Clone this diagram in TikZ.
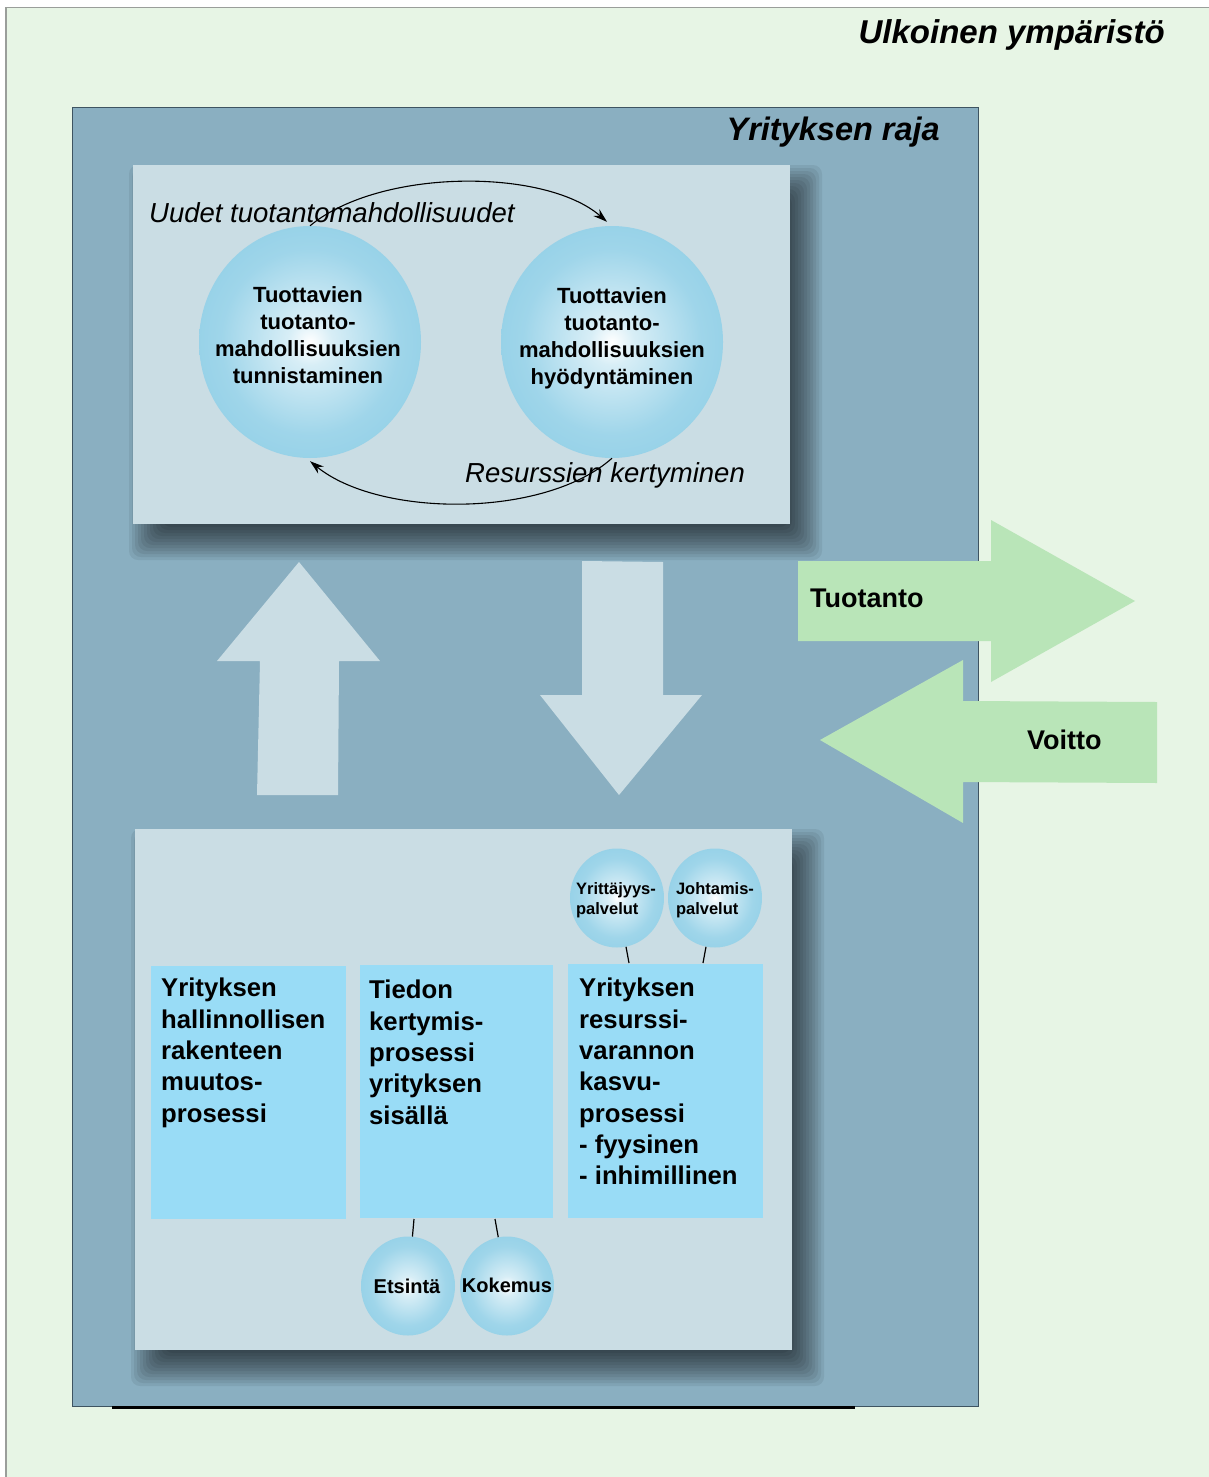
\documentclass[tikz,border=0pt]{standalone}
\usepackage{fontspec}
\setmainfont{Liberation Sans}
\usetikzlibrary{shapes.geometric,arrows.meta}

\definecolor{envgreen}{HTML}{E7F5E5}
\definecolor{envframe}{HTML}{9A9E9A}
\definecolor{boundblue}{HTML}{8AAFC1}
\definecolor{bounddark}{HTML}{3E5461}
\definecolor{panelblue}{HTML}{CADDE4}
\definecolor{boxcyan}{HTML}{99DCF6}
\definecolor{bubblefill}{HTML}{8ECEE6}
\definecolor{flowgreen}{HTML}{B9E5B8}

% radial glow used for all bubbles
\pgfdeclareradialshading{bubble}{\pgfpoint{0bp}{0bp}}{%
  color(0bp)=(white);
  color(5bp)=(bubblefill!35!white);
  color(20bp)=(bubblefill!85!white);
  color(32bp)=(bubblefill);
  color(50bp)=(bubblefill)}

\begin{document}
\begin{tikzpicture}[x=1pt,y=-1pt,
  panel/.style={fill=panelblue, anchor=north west, inner sep=0pt},
  softshade/.style={fill=black, opacity=0.068, rounded corners=9pt},
  procbox/.style={fill=boxcyan, anchor=north west, inner sep=0pt},
  bigbubble/.style={ellipse, shading=bubble, minimum width=222pt,
    minimum height=232pt, inner sep=0pt},
  bigtext/.style={inner sep=0pt, align=center,
    font=\fontsize{22}{27}\selectfont\bfseries},
  smallbubble/.style={ellipse, shading=bubble, minimum width=94pt,
    minimum height=99pt, inner sep=0pt},
  smalltext/.style={inner sep=0pt, align=left,
    font=\fontsize{16.5}{20}\selectfont\bfseries},
  proctext/.style={anchor=north west, inner sep=0pt, align=left,
    font=\fontsize{25.7}{31.3}\selectfont\bfseries},
  cyclearrow/.style={line width=1.1pt, -{Stealth[length=14pt,width=9pt]}},
  link/.style={line width=1.2pt}
]
\useasboundingbox (0,0) rectangle (1208,1477);
\fill[white] (0,0) rectangle (1208,1477);

% external environment
\node[anchor=north west, fill=envgreen, draw=envframe, line width=1.5pt,
  minimum width=1215pt, minimum height=1480pt, inner sep=0pt] (env) at (5,7) {};
\node[anchor=base east, inner sep=0pt,
  font=\fontsize{33}{38}\selectfont\bfseries\itshape] (envlabel) at (1165,44) {Ulkoinen ympäristö};

% firm boundary
\node[anchor=north west, fill=boundblue, draw=bounddark, line width=1.2pt,
  minimum width=906pt, minimum height=1299pt, inner sep=0pt] (firm) at (72,107) {};
\draw[line width=3pt] (112,1407.5) -- (855,1407.5);
\node[anchor=base east, inner sep=0pt,
  font=\fontsize{32.5}{38}\selectfont\bfseries\itshape] (firmlabel) at (940,140) {Yrityksen raja};

% panel corners and their soft drop shadows
\coordinate (tpnw) at (133,165);
\coordinate (tpse) at (790,524);
\coordinate (bpnw) at (135,829);
\coordinate (bpse) at (792,1350);
\foreach \d in {-18,-15,...,18} {
  \fill[softshade] ([shift={(\d+14,\d+18)}]tpnw) rectangle ([shift={(14-\d,18-\d)}]tpse);
  \fill[softshade] ([shift={(\d+14,\d+18)}]bpnw) rectangle ([shift={(14-\d,18-\d)}]bpse);
}

% upper panel: opportunity cycle
\node[panel, minimum width=657pt, minimum height=359pt] (toppanel) at (tpnw) {};
\node[anchor=base west, inner sep=0pt, font=\fontsize{27.5}{33}\selectfont\itshape]
  (newlabel) at (149,222) {Uudet tuotantomahdollisuudet};
\node[anchor=base west, inner sep=0pt, font=\fontsize{27.5}{33}\selectfont\itshape]
  (reslabel) at (465,482) {Resurssien kertyminen};
\node[bigbubble] (ident) at (310,342) {};
\node[bigbubble] (exploit) at (612,342) {};
\node[bigtext] (identtext) at (308,335) {Tuottavien\\tuotanto-\\mahdollisuuksien\\tunnistaminen};
\node[bigtext] (exploittext) at (612,338) {Tuottavien\\tuotanto-\\mahdollisuuksien\\hyödyntäminen};
\draw[cyclearrow] (ident.north) .. controls (380,168) and (545,168) .. ([xshift=-5pt,yshift=4pt]exploit.north);
\draw[cyclearrow] (exploit.south) .. controls (545,518) and (380,518) .. ([yshift=-3pt]ident.south);

% vertical flows between panels
\fill[panelblue] (257,795) -- (260,661) -- (217,661) -- (299,562) -- (380,661)
  -- (339,661) -- (338,795) -- cycle;
\fill[panelblue] (582,561) -- (663,562) -- (663,695) -- (702,695) -- (619,795)
  -- (540,695) -- (582,695) -- cycle;

% flows across the firm boundary
\fill[flowgreen] (798,561) -- (991,561) -- (991,520) -- (1135,601) -- (991,682)
  -- (991,641) -- (798,641) -- cycle;
\fill[flowgreen] (1157,702) -- (1157,783) -- (963,782) -- (963,823) -- (820,740)
  -- (963,660) -- (963,701) -- cycle;
\node[anchor=base west, inner sep=0pt, font=\fontsize{27}{32}\selectfont\bfseries]
  (outflow) at (810,607) {Tuotanto};
\node[anchor=base west, inner sep=0pt, font=\fontsize{27}{32}\selectfont\bfseries]
  (inflow) at (1027,749) {Voitto};

% lower panel: internal processes
\node[panel, minimum width=657pt, minimum height=521pt] (botpanel) at (bpnw) {};
\node[procbox, minimum width=195pt, minimum height=253pt] (adm) at (151,966) {};
\node[procbox, minimum width=193pt, minimum height=253pt] (know) at (360,965) {};
\node[procbox, minimum width=195pt, minimum height=254pt] (res) at (568,964) {};
\node[proctext] (admtext) at (161,978) {Yrityksen\\hallinnollisen\\rakenteen\\muutos-\\prosessi};
\node[proctext] (knowtext) at (369,980) {Tiedon\\kertymis-\\prosessi\\yrityksen\\sisällä};
\node[proctext] (restext) at (579,978) {Yrityksen\\resurssi-\\varannon\\kasvu-\\prosessi\\- fyysinen\\- inhimillinen};

\node[smallbubble] (entre) at (617,898) {};
\node[smallbubble] (mgmt) at (715,898) {};
\node[smallbubble] (search) at (408,1286) {};
\node[smallbubble] (exper) at (507,1286) {};
\node[smalltext] (entretext) at (616,900) {Yrittäjyys-\\palvelut};
\node[smalltext] (mgmttext) at (715,900) {Johtamis-\\palvelut};
\node[smalltext, font=\fontsize{20}{24}\selectfont\bfseries] (searchtext) at (407,1286) {Etsintä};
\node[smalltext, font=\fontsize{20}{24}\selectfont\bfseries] (expertext) at (507,1285) {Kokemus};

\coordinate (k1) at (629,963);
\coordinate (k2) at (703,963);
\coordinate (k3) at (414,1219);
\coordinate (k4) at (495,1219);
\draw[link] (entre) -- (k1);
\draw[link] (mgmt) -- (k2);
\draw[link] (search) -- (k3);
\draw[link] (exper) -- (k4);
\end{tikzpicture}
\end{document}
